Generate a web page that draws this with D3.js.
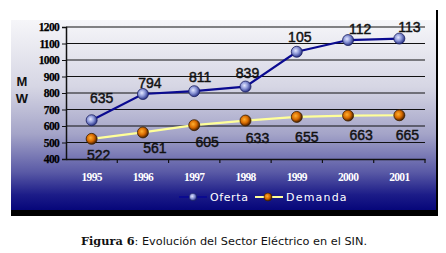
<!DOCTYPE html>
<html><head><meta charset="utf-8">
<script src="https://cdn.jsdelivr.net/npm/d3@7/dist/d3.min.js"></script>
<style>body{margin:0;background:#fff;}svg{display:block;}</style>
</head><body>
<svg id="c" width="446" height="253"></svg>
<script>
const years = ["1995","1996","1997","1998","1999","2000","2001"];
const oferta = [635, 794, 811, 839, 1050, 1121, 1130];
const demanda = [522, 561, 605, 633, 655, 663, 665];
const ofertaLabels = ["635","794","811","839","105","112","113"];
const demandaLabels = ["522","561","605","633","655","663","665"];
const yTicks = [400,500,600,700,800,900,1000,1100,1200];
const seriesNames = ["Oferta","Demanda"];

const svg = d3.select("#c");
const defs = svg.append("defs");
const bg = defs.append("linearGradient").attr("id","bg").attr("x1",0).attr("y1",0).attr("x2",0).attr("y2",1);
[[0,"#f6f6f9"],[0.35,"#d6d6e4"],[0.6,"#a4a4c8"],[0.8,"#5a5aa6"],[0.92,"#1c1c88"],[1,"#06067a"]].forEach(s=>bg.append("stop").attr("offset",s[0]).attr("stop-color",s[1]));
const gO = defs.append("radialGradient").attr("id","gO").attr("cx","40%").attr("cy","40%").attr("r","60%");
[[0,"#e4e8ff"],[0.5,"#8d98d8"],[1,"#2b3488"]].forEach(s=>gO.append("stop").attr("offset",s[0]).attr("stop-color",s[1]));
const gD = defs.append("radialGradient").attr("id","gD").attr("cx","40%").attr("cy","40%").attr("r","60%");
[[0,"#ffb030"],[0.55,"#d86a00"],[1,"#4a2000"]].forEach(s=>gD.append("stop").attr("offset",s[0]).attr("stop-color",s[1]));

// panel + shadow
svg.append("rect").attr("x",11).attr("y",20).attr("width",426).attr("height",190).attr("fill","url(#bg)");
svg.append("rect").attr("x",11).attr("y",210).attr("width",427).attr("height",6).attr("fill","#000");
svg.append("rect").attr("x",436).attr("y",10).attr("width",2).attr("height",206).attr("fill","#000");

const x = d3.scaleBand().domain(years).range([66,425]);
const y = d3.scaleLinear().domain([400,1200]).range([159,27]);

// gridlines
svg.append("g").selectAll("line").data(yTicks.slice(1)).join("line")
  .attr("x1",66).attr("x2",425).attr("y1",d=>y(d)).attr("y2",d=>y(d))
  .attr("stroke","#111").attr("stroke-width",1.2);

// y axis
const ya = svg.append("g").attr("transform","translate(66,0)")
  .call(d3.axisLeft(y).tickValues(yTicks).tickSize(4).tickPadding(3).tickFormat(d3.format("d")));
ya.select(".domain").attr("stroke","#111").attr("stroke-width",1.5);
ya.selectAll(".tick line").attr("stroke","#111");
ya.selectAll("text").attr("font-family","Liberation Serif").attr("font-weight","bold")
  .attr("font-size",11.5).attr("fill","#000").attr("letter-spacing",-0.7)
  .attr("stroke","#000").attr("stroke-width",0.25);

// x axis
const xa = svg.append("g").attr("transform","translate(0,159)")
  .call(d3.axisBottom(x).tickSize(0).tickPadding(14));
xa.select(".domain").attr("stroke","#111").attr("stroke-width",1.5);
xa.selectAll("text").attr("font-family","Liberation Serif").attr("font-weight","bold")
  .attr("font-size",11.5).attr("fill","#fff").attr("letter-spacing",-0.7);
svg.append("g").selectAll("line").data(years.slice(1).concat(["end"])).join("line")
  .attr("x1",(d,i)=>66+x.step()*(i+1)).attr("x2",(d,i)=>66+x.step()*(i+1))
  .attr("y1",159).attr("y2",163).attr("stroke","#111").attr("stroke-width",1.2);

// MW label
svg.append("text").attr("x",22).attr("y",86).attr("text-anchor","middle")
  .attr("font-family","Liberation Sans").attr("font-weight","bold").attr("font-size",13).attr("fill","#111").text("M");
svg.append("text").attr("x",22).attr("y",103).attr("text-anchor","middle")
  .attr("font-family","Liberation Sans").attr("font-weight","bold").attr("font-size",13).attr("fill","#111").text("W");

const cx = d => x(d) + x.bandwidth()/2;
const line = d3.line().x(d=>cx(d.year)).y(d=>y(d.v));
const oData = years.map((yr,i)=>({year:yr,v:oferta[i],l:ofertaLabels[i]}));
const dData = years.map((yr,i)=>({year:yr,v:demanda[i],l:demandaLabels[i]}));

svg.append("path").datum(dData).attr("d",line).attr("fill","none").attr("stroke","#ffff99").attr("stroke-width",2.2);
svg.append("path").datum(oData).attr("d",line).attr("fill","none").attr("stroke","#0a0a90").attr("stroke-width",2.2);

svg.append("g").selectAll("circle").data(dData).join("circle")
  .attr("cx",d=>cx(d.year)).attr("cy",d=>y(d.v)).attr("r",5.5)
  .attr("fill","url(#gD)").attr("stroke","#3a2000").attr("stroke-width",0.8);
svg.append("g").selectAll("circle").data(oData).join("circle")
  .attr("cx",d=>cx(d.year)).attr("cy",d=>y(d.v)).attr("r",5.5)
  .attr("fill","url(#gO)").attr("stroke","#1a2060").attr("stroke-width",0.8);

// data labels
const oOff = [[10,-17],[7,-6],[6,-9],[2,-9],[3,-10],[12,-6],[10,-7]];
const dOff = [[7,21],[12,21],[13,22],[12,22],[10,25],[13,24],[8,25]];
const lblStyle = s => s.attr("text-anchor","middle").attr("font-family","Liberation Sans")
  .attr("font-size",14).attr("fill","#111").attr("stroke","#111").attr("stroke-width",0.45);
svg.append("g").selectAll("text").data(oData).join("text")
  .attr("x",(d,i)=>cx(d.year)+oOff[i][0]).attr("y",(d,i)=>y(d.v)+oOff[i][1]).text(d=>d.l).call(lblStyle);
svg.append("g").selectAll("text").data(dData).join("text")
  .attr("x",(d,i)=>cx(d.year)+dOff[i][0]).attr("y",(d,i)=>y(d.v)+dOff[i][1]).text(d=>d.l).call(lblStyle);

// legend
const lg = svg.append("g");
lg.append("line").attr("x1",179).attr("x2",207).attr("y1",197).attr("y2",197).attr("stroke","#0a0a90").attr("stroke-width",2);
lg.append("circle").attr("cx",193).attr("cy",197).attr("r",3.8).attr("fill","url(#gO)").attr("stroke","#1a2060").attr("stroke-width",0.6);
lg.append("text").attr("x",210).attr("y",201).attr("font-family","DejaVu Sans").attr("font-size",11)
  .attr("fill","#fff").attr("letter-spacing",0.6).text(seriesNames[0]);
lg.append("line").attr("x1",255).attr("x2",283).attr("y1",197).attr("y2",197).attr("stroke","#ffff99").attr("stroke-width",2);
lg.append("circle").attr("cx",268).attr("cy",197).attr("r",4).attr("fill","url(#gD)").attr("stroke","#3a2000").attr("stroke-width",0.6);
lg.append("text").attr("x",286).attr("y",201).attr("font-family","DejaVu Sans").attr("font-size",11)
  .attr("fill","#fff").attr("letter-spacing",1.2).text(seriesNames[1]);

// caption
const cap = svg.append("text").attr("x",224).attr("y",245).attr("text-anchor","middle").attr("font-size",11.3).attr("fill","#111");
cap.append("tspan").attr("font-family","DejaVu Serif").attr("font-weight","bold").text("Figura 6");
cap.append("tspan").attr("font-family","DejaVu Sans").text(": Evolución del Sector Eléctrico en el SIN.");
</script>
</body></html>
